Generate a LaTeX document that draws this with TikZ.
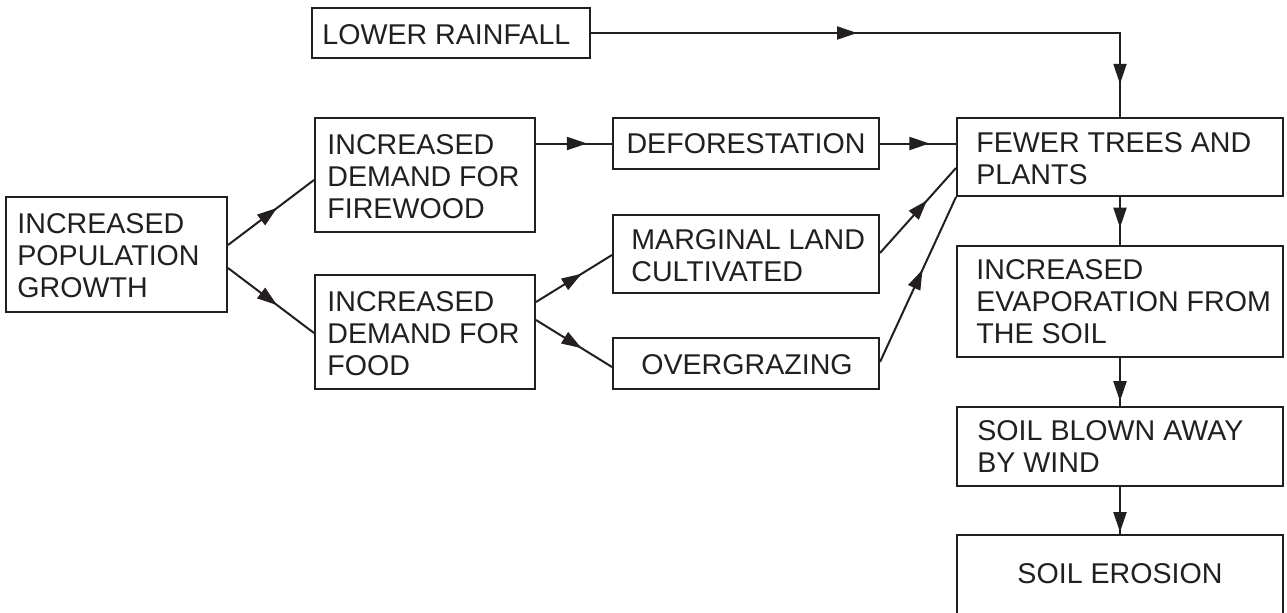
\documentclass[tikz,border=0pt]{standalone}
\usepackage{fontspec}
\setmainfont{Liberation Sans}
\usetikzlibrary{arrows.meta,decorations.markings,calc}
\definecolor{ink}{HTML}{231F20}
\newcommand\txtlines[1]{\begin{tabular}[t]{@{}l@{}}#1\end{tabular}}
\begin{document}
\begin{tikzpicture}[x=0.5pt,y=-0.5pt,
  box/.style={draw=ink, line width=1pt, inner sep=0pt, rectangle},
  lbl/.style={inner sep=0pt, text=ink, font=\fontsize{14.3}{16}\selectfont},
  conn/.style={draw=ink, line width=1pt},
  midarrow/.style={postaction={decorate}, decoration={markings,
    mark=at position #1 with {\arrow{Triangle[length=10pt,width=6.5pt]}}}}]
\useasboundingbox (0,0) rectangle (1287,612);
% boxes
\node[box, minimum width=139pt, minimum height=25pt] (rain) at (451,33) {};
\node[box, minimum width=110.5pt, minimum height=57.5pt] (pop) at (116.5,254.5) {};
\node[box, minimum width=110pt, minimum height=57pt] (fire) at (425,175) {};
\node[box, minimum width=110pt, minimum height=57pt] (food) at (425,332) {};
\node[box, minimum width=133pt, minimum height=25.5pt] (defor) at (746,143.5) {};
\node[box, minimum width=133pt, minimum height=39pt] (marg) at (746,254) {};
\node[box, minimum width=133pt, minimum height=25.5pt] (over) at (746,363.5) {};
\node[box, minimum width=163pt, minimum height=39pt] (fewer) at (1120,157) {};
\node[box, minimum width=163pt, minimum height=55.5pt] (evap) at (1120,301.5) {};
\node[box, minimum width=163pt, minimum height=39.5pt] (blown) at (1120,446.5) {};
\node[box, minimum width=163pt, minimum height=45pt] (eros) at (1120,580) {};
% texts
\node[lbl, anchor=base west] (train) at (322,44) {LOWER RAINFALL};
\node[lbl, anchor=base west] (tpop) at (17,233) {\txtlines{INCREASED\\POPULATION\\GROWTH}};
\node[lbl, anchor=base west] (tfire) at (327,154) {\txtlines{INCREASED\\DEMAND FOR\\FIREWOOD}};
\node[lbl, anchor=base west] (tfood) at (327,311) {\txtlines{INCREASED\\DEMAND FOR\\FOOD}};
\node[lbl, anchor=base] (tdefor) at (746,153) {DEFORESTATION};
\node[lbl, anchor=base west] (tmarg) at (631,249) {\txtlines{MARGINAL LAND\\CULTIVATED}};
\node[lbl, anchor=base] (tover) at (747,374) {OVERGRAZING};
\node[lbl, anchor=base west] (tfewer) at (976,152) {\txtlines{FEWER TREES AND\\PLANTS}};
\node[lbl, anchor=base west] (tevap) at (976,279) {\txtlines{INCREASED\\EVAPORATION FROM\\THE SOIL}};
\node[lbl, anchor=base west] (tblown) at (977,440) {\txtlines{SOIL BLOWN AWAY\\BY WIND}};
\node[lbl, anchor=base] (teros) at (1120,583) {SOIL EROSION};
% connectors
\coordinate (rc) at (rain.east -| fewer.north);
\draw[conn, postaction={decorate}, decoration={markings,
    mark=at position 0.434 with {\arrow{Triangle[length=10pt,width=6.5pt]}},
    mark=at position 0.946 with {\arrow{Triangle[length=10pt,width=6.5pt]}}}]
  (rain.east) -- (rc) -- (fewer.north);
\draw[conn, midarrow=0.57] ($(pop.east)+(0,-9.5)$) -- ($(fire.west)+(0,5)$);
\draw[conn, midarrow=0.57] ($(pop.east)+(0,13.5)$) -- ($(food.west)+(0,1)$);
\draw[conn, midarrow=0.67] (fire.east |- defor.west) -- (defor.west);
\draw[conn, midarrow=0.65] (defor.east) -- (defor.east -| fewer.west);
\draw[conn, midarrow=0.62] ($(marg.east)+(0,-1)$) -- ($(fewer.west)+(0,11)$);
\draw[conn, midarrow=0.56] ($(over.east)+(0,-1.5)$) -- (fewer.south west);
\draw[conn, midarrow=0.6] ($(food.east)+(0,-30)$) -- ($(marg.west)+(0,1)$);
\draw[conn, midarrow=0.6] ($(food.east)+(0,-12)$) -- ($(over.west)+(0,3.5)$);
\draw[conn, midarrow=0.64] (fewer.south) -- (evap.north);
\draw[conn, midarrow=0.9] (evap.south) -- (blown.north);
\draw[conn, midarrow=0.96] (blown.south) -- (eros.north);
\end{tikzpicture}
\end{document}
